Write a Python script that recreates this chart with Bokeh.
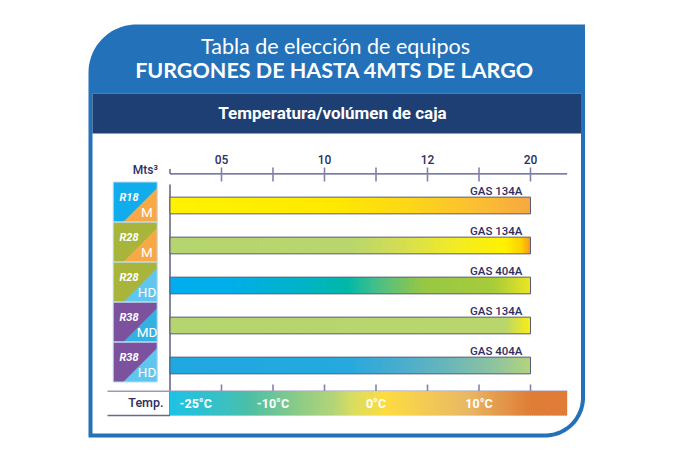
import numpy as np
from bokeh.plotting import figure
from bokeh.models import Range1d
from bokeh.core.properties import value
from bokeh.embed import file_html
from bokeh.resources import INLINE

# ---------------- data ----------------
title_1 = "Tabla de elección de equipos"
title_2 = "FURGONES DE HASTA 4MTS DE LARGO"
subtitle = "Temperatura/volúmen de caja"
volume_unit = "Mts³"
volume_ticks = ["", "05", "", "10", "", "12", "", "20"]
models = ["R18", "R28", "R28", "R38", "R38"]
classes = ["M", "M", "HD", "MD", "HD"]
gases = ["GAS 134A", "GAS 134A", "GAS 404A", "GAS 134A", "GAS 404A"]
max_volume = ["20", "20", "20", "20", "20"]
temp_title = "Temp."
temp_labels = ["-25°C", "-10°C", "0°C", "10°C"]
temp_tick_index = [0.5, 2, 4, 6]

# ---------------- style ----------------
W, H = 675, 473
X0, DX = 169.5, 51.5      # pixel of tick index 0, pixels per tick
Y0, DY = 205.0, 40.0      # pixel of row 0 centre, pixels per row


def xd(px):
    return (px - X0) / DX


def yd(py):
    return (py - Y0) / DY


def base(py, fs):
    # pixel baseline -> data y (compensates the svg text baseline shift)
    return yd(py - 0.37 * fs)


BLUE = "#2371b8"
NAVY = "#1d3f73"
TXT = "#2f2f63"
FONT = value("Roboto")
FONT_MED = value("Roboto Medium, Roboto")
model_colors = {"R18": "#10acec", "R28": "#a8b53a", "R38": "#7c519d"}
class_colors = {"M": "#f8a946", "HD": "#5ec6ef", "MD": "#33b1e3"}

bar_stops = [
    [(0, "#fff200"), (0.45, "#ffe900"), (0.65, "#fdd816"), (0.85, "#fbbf33"), (1, "#f7a840")],
    [(0, "#b5d56f"), (0.5, "#b8d66c"), (0.63, "#d3dd55"), (0.8, "#f3ec22"), (0.93, "#fff200"),
     (0.975, "#fdd000"), (1, "#f7941d")],
    [(0, "#00aeef"), (0.16, "#00aeea"), (0.38, "#00b4c4"), (0.49, "#00b8a8"), (0.58, "#4cbf86"),
     (0.7, "#97c745"), (0.9, "#a8cc3a"), (1, "#ece621")],
    [(0, "#b5d56f"), (0.93, "#b8d66b"), (1, "#fbee10")],
    [(0, "#20a8e0"), (0.49, "#25a9df"), (0.62, "#45acd0"), (0.76, "#66b6bb"), (0.9, "#8ec3a0"),
     (1, "#b3d57a")],
]
band_stops = [(0, "#1ec2e5"), (0.144, "#3cc0c0"), (0.2, "#4dbfa5"), (0.33, "#8fcc86"),
              (0.41, "#b3d479"), (0.46, "#d8dd60"), (0.54, "#fddc40"), (0.62, "#f5cf50"),
              (0.75, "#e9b865"), (0.83, "#e3994b"), (0.91, "#df7d37"), (1, "#e07c38")]


def hex2rgb(h):
    h = h.lstrip("#")
    return np.array([int(h[i:i + 2], 16) for i in (0, 2, 4)], dtype=float)


def grad(stops, n):
    fr = np.array([s[0] for s in stops])
    cols = np.array([hex2rgb(s[1]) for s in stops])
    t = (np.arange(n) + 0.5) / n
    out = []
    for tt in t:
        rgb = [np.interp(tt, fr, cols[:, k]) for k in range(3)]
        out.append("#%02x%02x%02x" % tuple(int(round(v)) for v in rgb))
    return out


def gradient_quads(p, left, right, top, bottom, stops, n=140):
    edges = np.linspace(left, right, n + 1)
    w = edges[1] - edges[0]
    rights = edges[1:].copy()
    rights[:-1] += w * 0.6
    p.quad(left=edges[:-1], right=rights, top=[top] * n, bottom=[bottom] * n,
           fill_color=grad(stops, n), line_color=None)


def arc(cx, cy, r, a0, a1, n=30):
    a = np.radians(np.linspace(a0, a1, n))
    return list(cx + r * np.cos(a)), list(cy + r * np.sin(a))


p = figure(width=W, height=H, x_range=Range1d(xd(0), xd(W)), y_range=Range1d(yd(H), yd(0)),
           output_backend="svg", toolbar_location=None, min_border=0,
           x_axis_type=None, y_axis_type=None, outline_line_color=None,
           background_fill_color="white", border_fill_color="white")
p.grid.visible = False

# ---- outer frame (blue) ----
R, Rb = 48, 40
L, T, Rr, B = 88, 24, 584.5, 437
ax, ay = arc(L + R, T + R, R, 180, 270)
bx, by = arc(Rr - Rb, B - Rb, Rb, 0, 90)
xs = [L] + ax + [Rr] + bx + [L]
ys = [B] + ay + [T] + by + [B]
p.patch([xd(v) for v in xs], [yd(v) for v in ys], fill_color=BLUE, line_color=None)

# inner white area
rb = 36
iL, iT, iR, iB = 92, 93, 580.5, 433
bx, by = arc(iR - rb, iB - rb, rb, 0, 90)
xs = [iL, iR] + bx + [iL]
ys = [iT, iT] + by + [iB]
p.patch([xd(v) for v in xs], [yd(v) for v in ys], fill_color="white", line_color=None)

# navy band
p.quad(left=[xd(iL)], right=[xd(iR)], top=[yd(93)], bottom=[yd(133)], fill_color=NAVY, line_color=None)

# titles
p.text(x=[xd(335)], y=[base(53.3, 21.5)], text=[title_1], text_font=value("Lato"), text_font_size="21.5px",
       text_color="white", text_align="center", text_baseline="alphabetic")
p.text(x=[xd(334)], y=[base(77.3, 21.5)], text=[title_2], text_font=value("Lato"), text_font_style="bold",
       text_font_size="21.5px", text_color="white", text_align="center", text_baseline="alphabetic")
p.text(x=[xd(332)], y=[base(118.3, 17)], text=[subtitle], text_font=FONT, text_font_style="bold",
       text_font_size="17px", text_color="white", text_align="center", text_baseline="alphabetic")

# ---- top volume axis ----
axis_end = xd(566.7)
n_ticks = len(volume_ticks)
tick_idx = list(range(n_ticks))
p.segment(x0=[0], y0=[yd(173.3)], x1=[axis_end], y1=[yd(173.3)], line_color="#4e4f7e", line_width=1.3)
p.segment(x0=[0], y0=[yd(168.5)], x1=[0], y1=[yd(173.3)], line_color="#4e4f7e", line_width=1.3)
p.segment(x0=tick_idx[1:], y0=[yd(167)] * (n_ticks - 1), x1=tick_idx[1:], y1=[yd(181)] * (n_ticks - 1),
          line_color="#8283aa", line_width=1.6)
lab_x = [i for i, t in enumerate(volume_ticks) if t]
lab_t = [t for t in volume_ticks if t]
p.text(x=lab_x, y=[base(163.3, 12)] * len(lab_x), text=lab_t, text_font=FONT_MED,
       text_font_size="12px", text_color=TXT, text_align="center", text_baseline="alphabetic")
p.text(x=[xd(157.5)], y=[base(174, 12)], text=[volume_unit], text_font=FONT_MED,
       text_font_size="12px", text_color=TXT, text_align="right", text_baseline="alphabetic")

# vertical line
p.segment(x0=[0], y0=[yd(184)], x1=[0], y1=[yd(415)], line_color="#45456e", line_width=1.3)

# ---- bars ----
rows = list(range(len(models)))
bh = 16.7 / DY
ends = [volume_ticks.index(v) for v in max_volume]
for i in rows:
    gradient_quads(p, 0, ends[i], i - bh / 2, i + bh / 2, bar_stops[i])
p.hbar(y=rows, left=[0] * len(rows), right=ends, height=bh, fill_color=None,
       line_color="#5a5a7c", line_width=1)
p.text(x=[xd(522)] * len(rows), y=[r + base(195, 11.5) for r in rows], text=gases, text_font=FONT_MED,
       text_font_size="11.5px", text_color=TXT, text_align="right",
       text_baseline="alphabetic")

# ---- model boxes ----
bl, br = xd(112.7), xd(156.7)
tops = [r - 23.5 / DY for r in rows]
bots = [r + 16.5 / DY for r in rows]
p.quad(left=[bl] * len(rows), right=[br] * len(rows), top=tops, bottom=bots,
       fill_color=[model_colors[m] for m in models], line_color=None)
tri_x = [[xd(122.7), br, br] for _ in rows]
tri_y = [[b, b, b - 34 / DY] for b in bots]
p.patches(tri_x, tri_y, fill_color=[class_colors[c] for c in classes], line_color=None)
p.quad(left=[bl] * len(rows), right=[br] * len(rows), top=tops, bottom=bots,
       fill_color=None, line_color="#bcdcef", line_width=1)
p.text(x=[xd(119)] * len(rows), y=[r + base(201, 11) for r in rows], text=models, text_font=FONT,
       text_font_style="bold italic", text_font_size="11px", text_color="white", text_align="left",
       text_baseline="alphabetic")
p.text(x=[xd(146.5)] * len(rows), y=[r + base(216, 13.5) for r in rows], text=classes, text_font=FONT,
       text_font_size="13.5px", text_color="white", text_align="center", text_baseline="alphabetic")

# ---- bottom temperature scale ----
p.segment(x0=tick_idx[1:], y0=[yd(384)] * (n_ticks - 1), x1=tick_idx[1:], y1=[yd(390.7)] * (n_ticks - 1),
          line_color="#8283aa", line_width=1.6)
p.segment(x0=[xd(107)], y0=[yd(390.7)], x1=[axis_end], y1=[yd(390.7)], line_color="#9a9ab6", line_width=1.5)
p.segment(x0=[xd(107)], y0=[yd(415)], x1=[0], y1=[yd(415)], line_color="#6a6a8e", line_width=1.3)
gradient_quads(p, 0, axis_end, yd(390.7), yd(415), band_stops, n=180)
p.text(x=temp_tick_index, y=[base(408, 12.5)] * len(temp_labels), text=temp_labels, text_font=FONT,
       text_font_style="bold", text_font_size="12.5px", text_color="white", text_align="center",
       text_baseline="alphabetic")
p.text(x=[xd(163)], y=[base(407, 12.5)], text=[temp_title], text_font=FONT_MED,
       text_font_size="12.5px", text_color=TXT, text_align="right", text_baseline="alphabetic")

open("out.html", "w").write(file_html(p, INLINE))
